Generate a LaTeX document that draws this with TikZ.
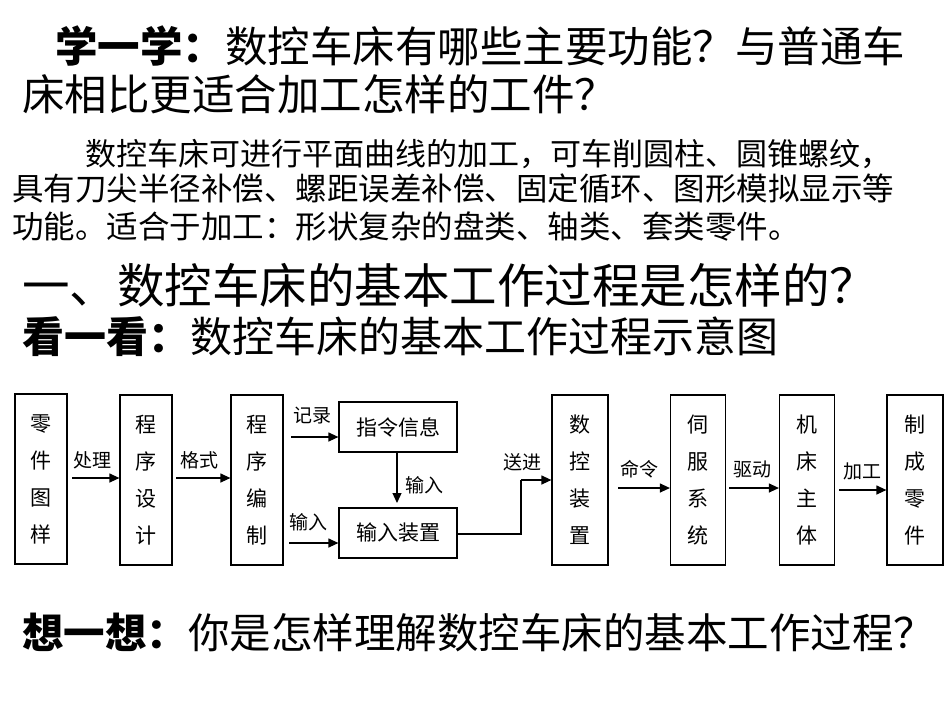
\documentclass[tikz,border=0pt]{standalone}
\usepackage{fontspec}
\setmainfont{Noto Sans CJK SC}
\usetikzlibrary{arrows.meta}
\begin{document}
\begin{tikzpicture}[x=1pt,y=-1pt,
  box/.style={draw,line width=1.2pt,inner sep=0pt},
  bt/.style={font=\fontsize{21}{37}\selectfont,align=center},
  lab/.style={font=\fontsize{19}{20}\selectfont,inner sep=0pt},
  arr/.style={-{Triangle[length=10pt,width=9pt]},line width=1.2pt},
  txt/.style={anchor=base west,inner sep=0pt}]
\useasboundingbox (0,0) rectangle (950,713);
% header texts
\node[txt,font=\fontsize{42.5}{42}\selectfont] (t1) at (55,62) {\textbf{学一学：}数控车床有哪些主要功能？与普通车};
\node[txt,font=\fontsize{42.5}{42}\selectfont] (t2) at (22,110) {床相比更适合加工怎样的工件？};
\node[txt,font=\fontsize{31}{31}\selectfont] (p1) at (85,165) {数控车床可进行平面曲线的加工，可车削圆柱、圆锥螺纹，};
\node[txt,font=\fontsize{31.5}{31}\selectfont] (p2) at (12,200) {具有刀尖半径补偿、螺距误差补偿、固定循环、图形模拟显示等};
\node[txt,font=\fontsize{31.5}{31}\selectfont] (p3) at (12,238) {功能。适合于加工：形状复杂的盘类、轴类、套类零件。};
\node[txt,font=\fontsize{47.5}{47}\selectfont] (h1) at (22,303) {一、数控车床的基本工作过程是怎样的？};
\node[txt,font=\fontsize{42}{42}\selectfont] (h2) at (22,352) {\textbf{看一看：}数控车床的基本工作过程示意图};
\node[txt,font=\fontsize{41.5}{42}\selectfont] (h3) at (22,648) {\textbf{想一想：}你是怎样理解数控车床的基本工作过程？};
% boxes
\node[box,bt,minimum width=52pt,minimum height=170pt] (b1) at (41,479) {零\\件\\图\\样};
\node[box,bt,minimum width=52pt,minimum height=170pt] (b2) at (146,480) {程\\序\\设\\计};
\node[box,bt,minimum width=52pt,minimum height=170pt] (b3) at (257,480) {程\\序\\编\\制};
\node[box,bt,minimum width=118pt,minimum height=50pt] (b4) at (398,427) {指令信息};
\node[box,bt,minimum width=118pt,minimum height=50pt] (b5) at (398,533) {输入装置};
\node[box,bt,minimum width=56pt,minimum height=170pt] (b6) at (580,480) {数\\控\\装\\置};
\node[box,bt,minimum width=55pt,minimum height=170pt] (b7) at (698,480) {伺\\服\\系\\统};
\node[box,bt,minimum width=55pt,minimum height=170pt] (b8) at (807,480) {机\\床\\主\\体};
\node[box,bt,minimum width=56pt,minimum height=170pt] (b9) at (915,480) {制\\成\\零\\件};
% arrows
\coordinate (c1) at (72,478);
\draw[arr] (c1) -- (c1-|b2.west);
\node[lab] (l1) at (92,460) {处理};
\coordinate (c2) at (176,478);
\draw[arr] (c2) -- (c2-|b3.west);
\node[lab] (l2) at (199,460) {格式};
\coordinate (c3) at (291,437);
\draw[arr] (c3) -- (c3-|b4.west);
\node[lab] (l3) at (312,416) {记录};
\coordinate (c4) at (289,543);
\draw[arr] (c4) -- (c4-|b5.west);
\node[lab] (l4) at (308,522) {输入};
\draw[arr] (b4.south-|397,0) -- (397,503);
\node[lab] (l5) at (424,485) {输入};
\coordinate (c6) at (521,480);
\draw[line width=1.2pt] (b5.east|-0,534) -| (c6);
\draw[arr] (c6) -- (c6-|b6.west);
\node[lab] (l6) at (522,462) {送进};
\coordinate (c7) at (618,488);
\draw[arr] (c7) -- (c7-|b7.west);
\node[lab] (l7) at (639,469) {命令};
\coordinate (c8) at (729,488);
\draw[arr] (c8) -- (c8-|b8.west);
\node[lab] (l8) at (752,469) {驱动};
\coordinate (c9) at (839,490);
\draw[arr] (c9) -- (c9-|b9.west);
\node[lab] (l9) at (862,471) {加工};
\end{tikzpicture}
\end{document}
